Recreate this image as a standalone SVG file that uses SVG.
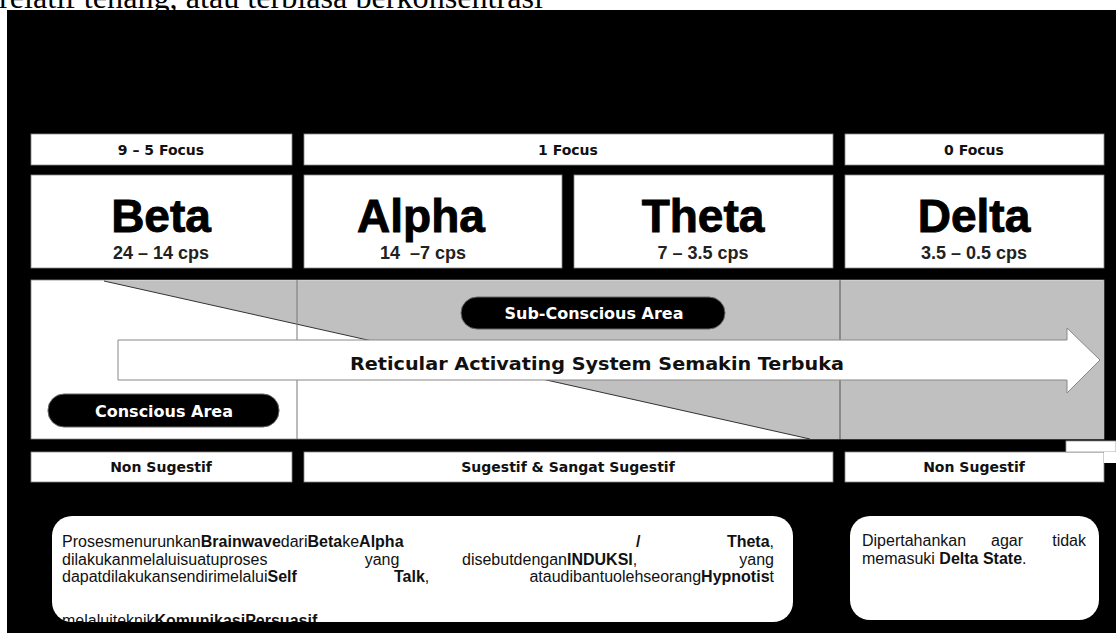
<svg xmlns="http://www.w3.org/2000/svg" width="1116" height="633" viewBox="0 0 1116 633">
<defs>
<style>
.box{fill:#fff;stroke:#888;stroke-width:0.8}
.lbl{font-family:"DejaVu Sans",Verdana,sans-serif;font-weight:bold;font-size:14px;fill:#111;text-anchor:middle}
.wave{font-family:"Liberation Sans",Arial,sans-serif;font-weight:bold;font-size:46px;fill:#000;stroke:#000;stroke-width:0.9;text-anchor:middle}
.cps{font-family:"Liberation Sans",Arial,sans-serif;font-weight:bold;font-size:18px;fill:#222;text-anchor:middle}
.pill{fill:#000;stroke:#666;stroke-width:1}
.ptxt{font-family:"DejaVu Sans",Verdana,sans-serif;font-weight:bold;font-size:16px;fill:#fff;text-anchor:middle}
.body{font-family:"Liberation Sans",Arial,sans-serif;font-size:16px;fill:#111}
.b{font-weight:bold}
.e{text-anchor:end}
.m{text-anchor:middle}
</style>
<clipPath id="clipL"><rect x="52" y="516" width="741" height="106" rx="20"/></clipPath>
</defs>
<rect x="0" y="0" width="1116" height="633" fill="#fff"/>
<text x="-1" y="8" font-family="'Liberation Serif','Times New Roman',serif" font-size="32" fill="#000" textLength="544" lengthAdjust="spacingAndGlyphs">relatif tenang, atau terbiasa berkonsentrasi</text>
<rect x="7" y="10" width="1109" height="623" fill="#000"/>

<g id="focus-row">
<g id="focus-beta"><rect class="box" x="31" y="134" width="261" height="31"/><text class="lbl" x="161" y="155">9 – 5 Focus</text></g>
<g id="focus-alpha-theta"><rect class="box" x="304" y="134" width="529" height="31"/><text class="lbl" x="568" y="155">1 Focus</text></g>
<g id="focus-delta"><rect class="box" x="845" y="134" width="259" height="31"/><text class="lbl" x="974" y="155">0 Focus</text></g>
</g>

<g id="waves">
<g id="beta"><rect class="box" x="31" y="175" width="261" height="93"/><text class="wave" x="161" y="232">Beta</text><text class="cps" x="161" y="259">24 – 14 cps</text></g>
<g id="alpha"><rect class="box" x="304" y="175" width="258" height="93"/><text class="wave" x="421" y="232">Alpha</text><text class="cps" x="423" y="259">14 &#160;–7 cps</text></g>
<g id="theta"><rect class="box" x="574" y="175" width="259" height="93"/><text class="wave" x="703" y="232">Theta</text><text class="cps" x="703" y="259">7 – 3.5 cps</text></g>
<g id="delta"><rect class="box" x="845" y="175" width="259" height="93"/><text class="wave" x="974" y="232">Delta</text><text class="cps" x="974" y="259">3.5 – 0.5 cps</text></g>
</g>

<g id="area">
<rect x="31" y="280" width="1073" height="159" fill="#fff" stroke="#888" stroke-width="0.8"/>
<polygon points="104,281 1104,281 1104,439 810,439" fill="#c0c0c0"/>
<line x1="104" y1="281" x2="810" y2="439" stroke="#333" stroke-width="1"/>
<line x1="297" y1="280" x2="297" y2="439" stroke="#777" stroke-width="1"/>
<line x1="840" y1="280" x2="840" y2="439" stroke="#555" stroke-width="1"/>
</g>

<g id="ras-arrow">
<polygon points="118,340 1067,340 1067,328 1100,360 1067,393 1067,380 118,380" fill="#fff" stroke="#888" stroke-width="1"/>
<text x="350" y="370" font-family="'DejaVu Sans',Verdana,sans-serif" font-weight="bold" font-size="17.5" fill="#111" textLength="494" lengthAdjust="spacingAndGlyphs">Reticular Activating System Semakin Terbuka</text>
</g>

<g id="subconscious"><rect class="pill" x="461" y="297" width="264" height="32" rx="16"/><text class="ptxt" x="594" y="319">Sub-Conscious Area</text></g>
<g id="conscious"><rect class="pill" x="48" y="394" width="231" height="33" rx="16"/><text class="ptxt" x="164" y="417">Conscious Area</text></g>

<g id="sugestion-row">
<g id="sug-beta"><rect class="box" x="31" y="452" width="261" height="30"/><text class="lbl" x="161" y="472">Non Sugestif</text></g>
<g id="sug-mid"><rect class="box" x="304" y="452" width="529" height="30"/><text class="lbl" x="568" y="472">Sugestif &amp; Sangat Sugestif</text></g>
<g id="sug-delta"><rect class="box" x="845" y="452" width="259" height="30"/><text class="lbl" x="974" y="472">Non Sugestif</text></g>
<rect x="1066" y="441" width="50" height="11" fill="#fff" stroke="#999" stroke-width="0.8"/>
<rect x="1104" y="452" width="12" height="11" fill="#fff"/>
</g>

<g id="note-left">
<rect x="52" y="516" width="741" height="106" rx="20" fill="#fff"/>
<g clip-path="url(#clipL)" class="body">
<text x="62" y="547">Prosesmenurunkan<tspan class="b">Brainwave</tspan>dari<tspan class="b">Beta</tspan>ke<tspan class="b">Alpha</tspan></text>
<text x="636" y="547" class="b">/</text>
<text x="774" y="547" class="e"><tspan class="b">Theta</tspan>,</text>
<text x="62" y="564.5">dilakukanmelaluisuatuproses</text>
<text x="382" y="564.5" class="m">yang</text>
<text x="462" y="564.5">disebutdengan<tspan class="b">INDUKSI</tspan>,</text>
<text x="774" y="564.5" class="e">yang</text>
<text x="62" y="582">dapatdilakukansendirimelalui<tspan class="b">Self</tspan></text>
<text x="394" y="582"><tspan class="b">Talk</tspan>,</text>
<text x="774" y="582" class="e">ataudibantuolehseorang<tspan class="b">Hypnotis</tspan>t</text>
<text x="62" y="626">melaluiteknik<tspan class="b">KomunikasiPersuasif</tspan></text>
</g>
</g>

<g id="note-right">
<rect x="850" y="516" width="249" height="104" rx="20" fill="#fff"/>
<g class="body">
<text x="862" y="546">Dipertahankan</text>
<text x="1007" y="546" class="m">agar</text>
<text x="1086" y="546" class="e">tidak</text>
<text x="862" y="563.5">memasuki <tspan class="b">Delta State</tspan>.</text>
</g>
</g>
</svg>
